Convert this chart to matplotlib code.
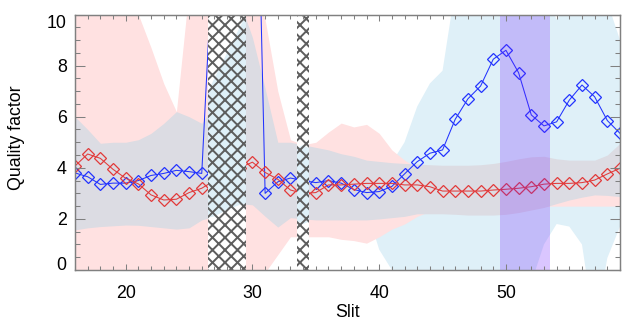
import numpy as np
import matplotlib
matplotlib.use('Agg')
import matplotlib.pyplot as plt
from matplotlib.ticker import MultipleLocator

# slit number along the x axis
slits = np.arange(16, 60)

# quality factor of the two spectra (27-30 go off the top of the plot)
q_blue = [3.8, 3.65, 3.35, 3.4, 3.4, 3.5, 3.7, 3.78, 3.9, 3.85, 3.78,
          13.6, 17.0, 21.0, 25.0,
          3.0, 3.45, 3.6, 3.5, 3.42, 3.5, 3.4, 3.15, 3.03, 3.07, 3.27,
          3.76, 4.24, 4.57, 4.7, 5.9, 6.7, 7.2, 8.25, 8.6, 7.72, 6.07, 5.64,
          5.8, 6.65, 7.24, 6.78, 5.85, 5.35]
q_red = [4.07, 4.54, 4.37, 3.94, 3.59, 3.37, 2.94, 2.74, 2.77, 3.03, 3.2,
         3.5, 3.8, 4.0, 4.22,
         3.82, 3.55, 3.13, 3.0, 3.03, 3.33, 3.33, 3.36, 3.39, 3.39, 3.39,
         3.33, 3.33, 3.26, 3.09, 3.09, 3.09, 3.09, 3.13, 3.16, 3.2, 3.26, 3.36,
         3.39, 3.39, 3.42, 3.52, 3.76, 3.98]

# envelopes
blue_lo = [2.5] * 10 + [2.0,
           2.1, 2.35, 2.55, 2.6,
           2.6, 2.5, 2.0, 1.8, 2.0, 2.3, 2.4, 2.4, 2.4, 0.8, 0.0] + \
          [-0.5] * 11 + [1.0,
           1.8, 1.7, 1.0, -2.3, 0.47, 1.7]
blue_hi = [4.5] * 10 + [6.5, 7.5, 8.5, 9.5, 10.5,
           4.5, 4.5, 4.6, 4.9, 4.6, 4.3, 4.2, 4.2, 4.2, 4.0, 4.2,
           5.0, 6.4, 7.3, 7.8, 11.0] + [11.0] * 7 + \
          [9.8, 10.5, 11.0, 11.0, 10.5, 9.0]

red_lo = [-0.5] * 15 + [-0.1, 0.6, 1.3, 1.3, 1.3, 1.3, 1.2, 1.15, 1.05, 1.3,
                        1.6, 1.8, 2.1, 2.3] + [2.5] * 15
red_hi = [11.0] * 5 + [10.0, 8.7, 7.3, 6.2] + [11.0] * 6 + \
         [9.8, 7.0, 5.1, 4.9, 5.0, 5.4, 5.75, 5.6, 5.7, 5.35, 4.7, 4.3, 4.0,
          3.8] + [3.5] * 15

grey_lo = [1.57, 1.65, 1.7, 1.73, 1.76, 1.75, 1.7, 1.65, 1.6, 1.65, 1.96,
           2.1, 2.3, 2.6, 2.55,
           2.1, 1.68, 2.05, 2.0, 1.96, 1.96, 1.96, 1.96, 1.96, 2.0, 2.05,
           2.1, 2.2, 2.2, 2.2, 2.18, 2.15, 2.15, 2.15, 2.18, 2.25, 2.35, 2.45,
           2.6, 2.74, 2.85, 2.94, 2.92, 2.87]
grey_hi = [6.0, 5.5, 4.96, 5.0, 5.0, 5.1, 5.35, 5.74, 6.2, 6.0, 5.74,
           6.5, 8.0, 10.5, 9.1,
           7.1, 5.0, 5.0, 4.9, 4.8, 4.7, 4.55, 4.45, 4.3, 4.25, 4.2,
           4.17, 4.15, 4.12, 4.1, 4.1, 4.1, 4.12, 4.17, 4.25, 4.35, 4.43, 4.45,
           4.35, 4.3, 4.3, 4.3, 4.5, 4.96]

bad_slits = [(26.5, 29.5), (33.5, 34.5)]
sel_slits = (49.5, 53.5)

c_blue = '#2233ff'
c_red = '#e23a3a'
c_lblue = '#dff0f8'
c_pink = '#ffe1e1'
c_grey = '#dcdce3'
c_axis = '#808080'
c_hatch = '#5e5e5e'
c_sel = '#6e1eff'

DPI = 75
plt.rcParams['font.family'] = ['Liberation Sans', 'DejaVu Sans']
plt.rcParams['hatch.linewidth'] = 1.9
plt.rcParams['hatch.color'] = c_hatch

fig = plt.figure(figsize=(622 / DPI, 320 / DPI), dpi=DPI)
ax = fig.add_axes([75 / 622, 50 / 320, 545 / 622, 255.5 / 320])

ax.fill_between(slits, blue_lo, blue_hi, color=c_lblue, lw=0, zorder=1)
ax.fill_between(slits, red_lo, red_hi, color=c_pink, lw=0, zorder=1.1)
ax.fill_between(slits, grey_lo, grey_hi, color=c_grey, lw=0, zorder=1.2)

ax.plot(slits, q_blue, color=c_blue, lw=1.0, marker='D', ms=7.5,
        mfc='none', mec=c_blue, mew=1.2, zorder=3)
ax.plot(slits, q_red, color=c_red, lw=1.0, marker='D', ms=7.5,
        mfc='none', mec=c_red, mew=1.2, zorder=4)

# masked slits: blank them, keep only the blue envelope, hatch on top
for x0, x1 in bad_slits:
    cover = ax.axvspan(x0, x1, color='white', lw=0, zorder=5)
    fb = ax.fill_between(slits, blue_lo, blue_hi, color=c_lblue, lw=0, zorder=6)
    fb.set_clip_path(cover)
    ax.axvspan(x0, x1, facecolor='none', edgecolor=c_hatch, hatch='xx',
               lw=0, zorder=7)

ax.axvspan(*sel_slits, color=c_sel, alpha=0.25, lw=0, zorder=8)

ax.set_xlim(16, 59)
ax.set_ylim(0, 10)
ax.set_xticks([20, 30, 40, 50])
ax.xaxis.set_minor_locator(MultipleLocator(1))
ax.set_yticks(range(0, 11, 2))
ax.yaxis.set_minor_locator(MultipleLocator(0.5))

ax.tick_params(which='both', direction='in', top=True, right=True,
               color=c_axis, width=1, labelsize=17)
ax.tick_params(axis='x', which='major', length=6, pad=14.4)
ax.tick_params(axis='x', which='minor', length=3.5)
ax.tick_params(axis='y', which='major', length=10, pad=8)
ax.tick_params(axis='y', which='minor', length=5)
ax.xaxis.set_zorder(10)
ax.yaxis.set_zorder(10)

yt = ax.yaxis.get_major_ticks()
yt[0].label1.set_va('baseline')
yt[-1].label1.set_va('top')

for sp in ax.spines.values():
    sp.set_color(c_axis)
    sp.set_linewidth(1.4)
    sp.set_zorder(11)

ax.set_xlabel('Slit', fontsize=17, labelpad=2)
ax.set_ylabel('Quality factor', fontsize=17)
ax.yaxis.set_label_coords(-0.0917, 0.5186)

fig.savefig('out.png', dpi=DPI)
